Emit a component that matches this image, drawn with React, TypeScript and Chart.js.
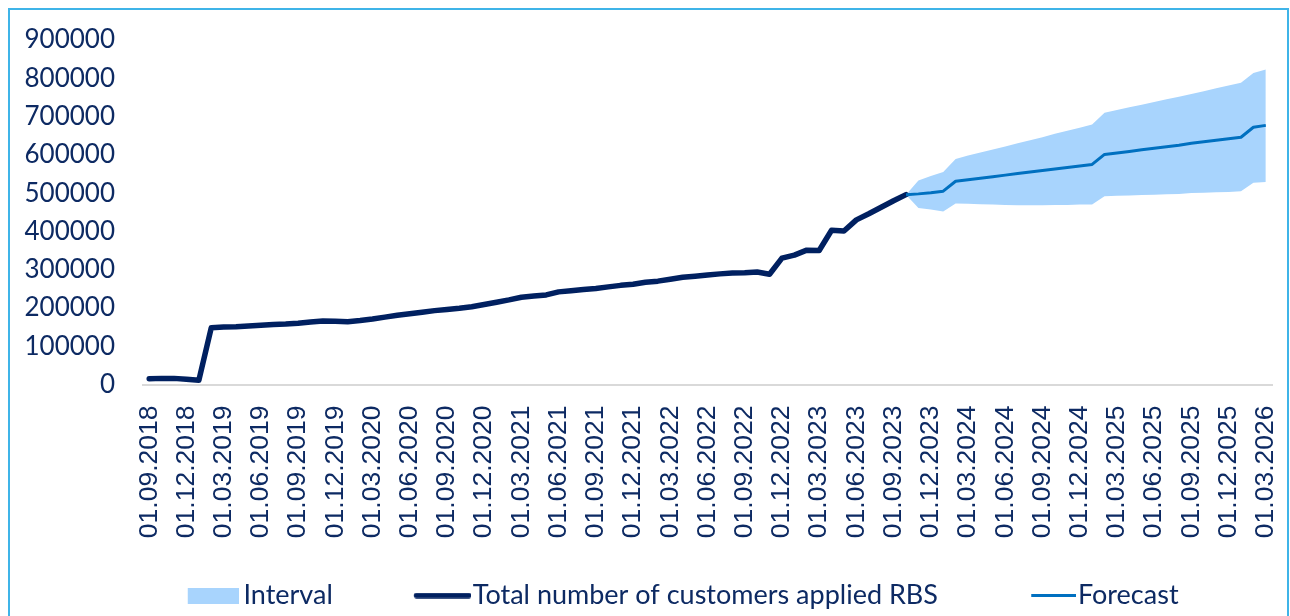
import React, { useEffect, useRef } from 'react';
import { Chart, registerables } from 'chart.js';

Chart.register(...registerables);

// Monthly categories, 01.09.2018 .. 01.03.2026
const months: string[] = [
  '01.09.2018', '01.10.2018', '01.11.2018', '01.12.2018',
  '01.01.2019', '01.02.2019', '01.03.2019', '01.04.2019', '01.05.2019', '01.06.2019', '01.07.2019', '01.08.2019', '01.09.2019', '01.10.2019', '01.11.2019', '01.12.2019',
  '01.01.2020', '01.02.2020', '01.03.2020', '01.04.2020', '01.05.2020', '01.06.2020', '01.07.2020', '01.08.2020', '01.09.2020', '01.10.2020', '01.11.2020', '01.12.2020',
  '01.01.2021', '01.02.2021', '01.03.2021', '01.04.2021', '01.05.2021', '01.06.2021', '01.07.2021', '01.08.2021', '01.09.2021', '01.10.2021', '01.11.2021', '01.12.2021',
  '01.01.2022', '01.02.2022', '01.03.2022', '01.04.2022', '01.05.2022', '01.06.2022', '01.07.2022', '01.08.2022', '01.09.2022', '01.10.2022', '01.11.2022', '01.12.2022',
  '01.01.2023', '01.02.2023', '01.03.2023', '01.04.2023', '01.05.2023', '01.06.2023', '01.07.2023', '01.08.2023', '01.09.2023', '01.10.2023', '01.11.2023', '01.12.2023',
  '01.01.2024', '01.02.2024', '01.03.2024', '01.04.2024', '01.05.2024', '01.06.2024', '01.07.2024', '01.08.2024', '01.09.2024', '01.10.2024', '01.11.2024', '01.12.2024',
  '01.01.2025', '01.02.2025', '01.03.2025', '01.04.2025', '01.05.2025', '01.06.2025', '01.07.2025', '01.08.2025', '01.09.2025', '01.10.2025', '01.11.2025', '01.12.2025',
  '01.01.2026', '01.02.2026', '01.03.2026',
];

// Tick labels shown on the axis (quarterly)
const tickLabels: string[] = [
  '01.09.2018', '01.12.2018', '01.03.2019', '01.06.2019', '01.09.2019', '01.12.2019',
  '01.03.2020', '01.06.2020', '01.09.2020', '01.12.2020', '01.03.2021', '01.06.2021',
  '01.09.2021', '01.12.2021', '01.03.2022', '01.06.2022', '01.09.2022', '01.12.2022',
  '01.03.2023', '01.06.2023', '01.09.2023', '01.12.2023', '01.03.2024', '01.06.2024',
  '01.09.2024', '01.12.2024', '01.03.2025', '01.06.2025', '01.09.2025', '01.12.2025',
  '01.03.2026',
];

// Actual: 01.09.2018 .. 01.10.2023
const totalCustomers: number[] = [
  15000, 16000, 16000, 14000, 11000, 148000, 150000, 151000, 153000, 155000,
  157000, 158000, 160000, 163000, 166000, 165000, 164000, 167000, 171000, 176000,
  181000, 185000, 189000, 193000, 196000, 199000, 203000, 209000, 215000, 221000,
  228000, 231000, 234000, 242000, 245000, 248000, 251000, 255000, 259000, 262000,
  267000, 270000, 275000, 280000, 283000, 286000, 289000, 291000, 292000, 294000,
  288000, 330000, 338000, 351000, 350000, 403000, 401000, 430000, 446000, 463000,
  480000, 496000,
];

// Forecast and interval: 01.10.2023 .. 01.03.2026
const forecastStart = 61;
const forecastValues: number[] = [
  496000, 498000, 501000, 505000, 531000, 535000, 539000, 543000, 547000, 551000,
  555000, 559000, 563000, 567000, 571000, 575000, 601000, 605000, 609000, 613000,
  617000, 621000, 625000, 630000, 634000, 638000, 642000, 646000, 672000, 677000,
];
const intervalUpper: number[] = [
  496000, 533000, 545000, 555000, 589000, 598000, 606000, 614000, 622000, 630000,
  638000, 646000, 655000, 663000, 671000, 679000, 710000, 717000, 724000, 731000,
  738000, 745000, 752000, 759000, 766000, 774000, 781000, 788000, 814000, 823000,
];
const intervalLower: number[] = [
  496000, 461000, 457000, 452000, 473000, 472000, 471000, 470000, 469000, 468000,
  468000, 468000, 469000, 469000, 470000, 470000, 492000, 493000, 494000, 495000,
  496000, 497000, 498000, 500000, 501000, 502000, 503000, 505000, 527000, 529000,
];

const yTicks: number[] = [0, 100000, 200000, 300000, 400000, 500000, 600000, 700000, 800000, 900000];

const NAVY = '#002060';
const FORECAST = '#0070C0';
const BAND = '#A8D4FD';
const TEXT = '#0D2A63';

const CANVAS_W = 1277;
const CANVAS_H = 609;
const LEGEND_DX = 0;
const LEGEND_FONT = 27;
const LEGEND_PAD = 10;
const LEGEND_BOX = 116.5;
const LEGEND_H = LEGEND_FONT + LEGEND_PAD + 10;
const PLOT_BOTTOM = 374.5;

const fromStart = (start: number, arr: number[]) =>
  months.map((_, i) => (i < start || i - start >= arr.length ? null : arr[i - start]));

function makeImg(w: number, h: number, draw: (ctx: CanvasRenderingContext2D) => void) {
  const c = document.createElement('canvas');
  c.width = w;
  c.height = h;
  const ctx = c.getContext('2d');
  if (ctx) draw(ctx);
  return c;
}

export default function App() {
  const ref = useRef<HTMLCanvasElement | null>(null);

  useEffect(() => {
    if (!ref.current) return;

    const intervalImg = makeImg(134, 16, (ctx) => {
      ctx.fillStyle = BAND;
      ctx.fillRect(83, 0, 52, 16);
    });
    const navyImg = makeImg(140, 6, (ctx) => {
      ctx.strokeStyle = NAVY;
      ctx.lineWidth = 5.5;
      ctx.lineCap = 'round';
      ctx.beginPath();
      ctx.moveTo(85.5, 3);
      ctx.lineTo(137.5, 3);
      ctx.stroke();
    });
    const forecastImg = makeImg(140, 3, (ctx) => {
      ctx.strokeStyle = FORECAST;
      ctx.lineWidth = 3;
      ctx.beginPath();
      ctx.moveTo(95, 1.5);
      ctx.lineTo(140, 1.5);
      ctx.stroke();
    });

    const legendShift = {
      id: 'legendShift',
      afterLayout(chart: any) {
        const l = chart.legend;
        if (!l) return;
        l.left += LEGEND_DX;
        l.right += LEGEND_DX;
      },
    };

    const chart = new Chart(ref.current, {
      type: 'line',
      data: {
        labels: months,
        datasets: [
          {
            label: 'IntervalLower',
            data: fromStart(forecastStart, intervalLower),
            borderWidth: 0,
            borderColor: 'rgba(0,0,0,0)',
            pointRadius: 0,
            fill: false,
            order: 3,
          },
          {
            label: 'Interval',
            data: fromStart(forecastStart, intervalUpper),
            borderWidth: 0,
            borderColor: 'rgba(0,0,0,0)',
            backgroundColor: BAND,
            pointRadius: 0,
            fill: '-1',
            order: 2,
          },
          {
            label: 'Total number of customers applied RBS',
            data: fromStart(0, totalCustomers),
            borderColor: NAVY,
            backgroundColor: NAVY,
            borderWidth: 5.5,
            borderCapStyle: 'round',
            borderJoinStyle: 'round',
            pointRadius: 0,
            tension: 0,
            fill: false,
            order: 1,
          },
          {
            label: 'Forecast',
            data: fromStart(forecastStart, forecastValues),
            borderColor: FORECAST,
            backgroundColor: FORECAST,
            borderWidth: 3,
            borderJoinStyle: 'round',
            pointRadius: 0,
            tension: 0,
            fill: false,
            order: 0,
          },
        ],
      },
      options: {
        responsive: false,
        animation: false,
        events: [],
        layout: { padding: { left: 10, right: 15, top: 30, bottom: 0 } },
        scales: {
          x: {
            type: 'category',
            offset: true,
            grid: { display: false, drawTicks: false },
            border: { display: true, color: '#D9D9D9', width: 2 },
            ticks: {
              autoSkip: false,
              maxRotation: 90,
              minRotation: 90,
              padding: 21,
              color: TEXT,
              font: { family: '"Liberation Sans", Arial, sans-serif', size: 26.5 },
              callback: (_v: any, idx: number) => (tickLabels.includes(months[idx]) ? months[idx] : ''),
            },
            afterFit: (s: any) => {
              s.height = CANVAS_H - LEGEND_H - PLOT_BOTTOM;
              s.paddingLeft = 0;
              s.paddingRight = 0;
            },
          },
          y: {
            min: 0,
            max: 900000,
            grid: { display: false, drawTicks: false },
            border: { display: false },
            afterBuildTicks: (s: any) => {
              s.ticks = yTicks.map((v) => ({ value: v }));
            },
            ticks: {
              padding: 28,
              color: TEXT,
              font: { family: 'Lato, "Open Sans", sans-serif', size: 26 },
              callback: (v: any) => String(v),
            },
            afterFit: (s: any) => {
              s.width = 123;
              s.paddingTop = 15;
              s.paddingBottom = 15;
            },
          },
        },
        plugins: {
          filler: { drawTime: 'beforeDatasetsDraw' },
          tooltip: { enabled: false },
          legend: {
            display: true,
            position: 'bottom',
            labels: {
              usePointStyle: true,
              pointStyleWidth: LEGEND_BOX,
              boxHeight: 16,
              padding: LEGEND_PAD,
              color: TEXT,
              font: { family: 'Lato, "Open Sans", sans-serif', size: LEGEND_FONT },
              generateLabels: () => [
                { text: 'Interval', datasetIndex: 1, pointStyle: intervalImg, fillStyle: BAND, strokeStyle: BAND, lineWidth: 0, hidden: false, fontColor: TEXT },
                { text: 'Total number of customers applied RBS', datasetIndex: 2, pointStyle: navyImg, fillStyle: NAVY, strokeStyle: NAVY, lineWidth: 0, hidden: false, fontColor: TEXT },
                { text: 'Forecast', datasetIndex: 3, pointStyle: forecastImg, fillStyle: FORECAST, strokeStyle: FORECAST, lineWidth: 0, hidden: false, fontColor: TEXT },
              ] as any,
            },
          },
        },
      } as any,
      plugins: [legendShift],
    });

    return () => chart.destroy();
  }, []);

  return (
    <div
      style={{
        position: 'fixed',
        left: 8,
        top: 8,
        width: 1281,
        height: 622,
        boxSizing: 'border-box',
        borderTop: '2px solid #3FB4E8',
        borderLeft: '2px solid #3FB4E8',
        borderRight: '2px solid #3FB4E8',
        background: '#ffffff',
      }}
    >
      <canvas
        ref={ref}
        width={CANVAS_W}
        height={CANVAS_H}
        style={{ display: 'block', width: CANVAS_W, height: CANVAS_H }}
      />
    </div>
  );
}
